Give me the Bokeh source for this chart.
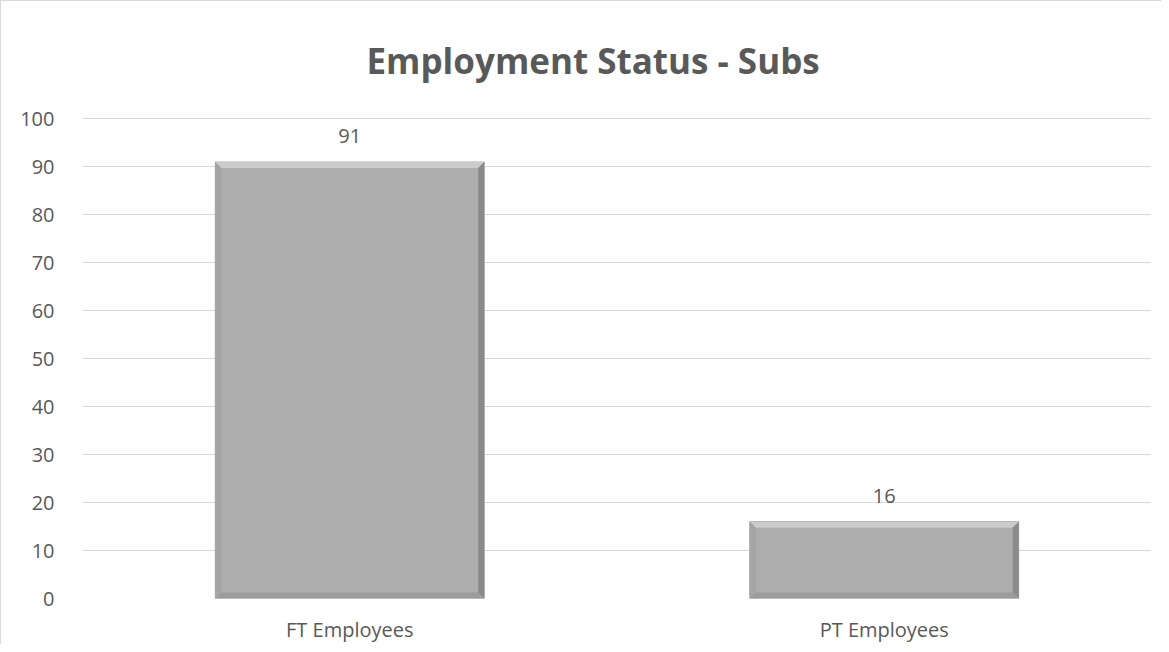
from bokeh.plotting import figure
from bokeh.models import Range1d, FixedTicker, ColumnDataSource, Title
from bokeh.core.properties import value
from bokeh.embed import file_html
from bokeh.resources import INLINE

categories = ["FT Employees", "PT Employees"]
values = [91, 16]
y_ticks = [0, 10, 20, 30, 40, 50, 60, 70, 80, 90, 100]
title_text = "Employment Status - Subs"

FONT = "Open Sans"
TXT = "#595959"

W, H = 1161, 644
p = figure(width=W, height=H, output_backend="svg", toolbar_location=None,
           x_range=Range1d(0, len(categories)), y_range=Range1d(0, 100.5),
           min_border_left=81, min_border_right=11, min_border_top=115,
           min_border_bottom=47, outline_line_color=None,
           border_fill_color="white", background_fill_color="white",
           styles={"border-left": "1px solid #d9d9d9", "border-top": "1px solid #d9d9d9"})

t = Title(text=title_text, align="left", text_font=FONT, text_font_size="35px",
          text_font_style="bold", text_color=TXT, offset=284, standoff=66,
          text_line_height=0.7)
p.add_layout(t, "above")

xs = [i + 0.5 for i in range(len(categories))]
bw = 0.503
src = ColumnDataSource(dict(x=xs, top=values, label=[str(v) for v in values]))

p.vbar(x="x", top="top", bottom=0, width=bw, source=src,
       fill_color="#adadad", line_color="#a0a0a0", line_width=1)

# bevel effect
dx = 6 / 534.5
dy = 6 / 4.8
top_x, top_y, r_x, r_y, b_x, b_y, l_x, l_y = [], [], [], [], [], [], [], []
for x, v in zip(xs, values):
    x0, x1 = x - bw / 2, x + bw / 2
    top_x.append([x0, x1, x1 - dx, x0 + dx]); top_y.append([v, v, v - dy, v - dy])
    r_x.append([x1, x1, x1 - dx, x1 - dx]); r_y.append([v, 0, dy, v - dy])
    b_x.append([x0, x1, x1 - dx, x0 + dx]); b_y.append([0, 0, dy, dy])
    l_x.append([x0, x0, x0 + dx, x0 + dx]); l_y.append([v, 0, dy, v - dy])
p.patches(top_x, top_y, fill_color="#cbcbcb", line_color=None)
p.patches(r_x, r_y, fill_color="#8a8a8a", line_color=None)
p.patches(b_x, b_y, fill_color="#9c9c9c", line_color=None)
p.patches(l_x, l_y, fill_color="#a5a5a5", line_color=None)

p.text(x="x", y="top", text="label", source=src, text_align="center",
       text_baseline="alphabetic", y_offset=-26, text_font=value(FONT),
       text_font_size="20px", text_color=TXT)

# axes
p.xaxis.ticker = FixedTicker(ticks=xs)
p.xaxis.major_label_overrides = {x: c for x, c in zip(xs, categories)}
p.xaxis.axis_line_color = None
p.xaxis.major_tick_line_color = None
p.xaxis.minor_tick_line_color = None
p.xaxis.major_label_standoff = 11
p.xaxis.major_label_text_font = FONT
p.xaxis.major_label_text_font_size = "20px"
p.xaxis.major_label_text_color = TXT
p.xgrid.grid_line_color = None

p.yaxis.ticker = FixedTicker(ticks=y_ticks)
p.yaxis.axis_line_color = None
p.yaxis.major_tick_line_color = None
p.yaxis.minor_tick_line_color = None
p.yaxis.major_label_standoff = 22
p.yaxis.major_label_text_font = FONT
p.yaxis.major_label_text_font_size = "20px"
p.yaxis.major_label_text_color = TXT
p.ygrid.grid_line_color = "#d9d9d9"
p.ygrid.grid_line_width = 1

open("out.html", "w").write(file_html(p, INLINE))
